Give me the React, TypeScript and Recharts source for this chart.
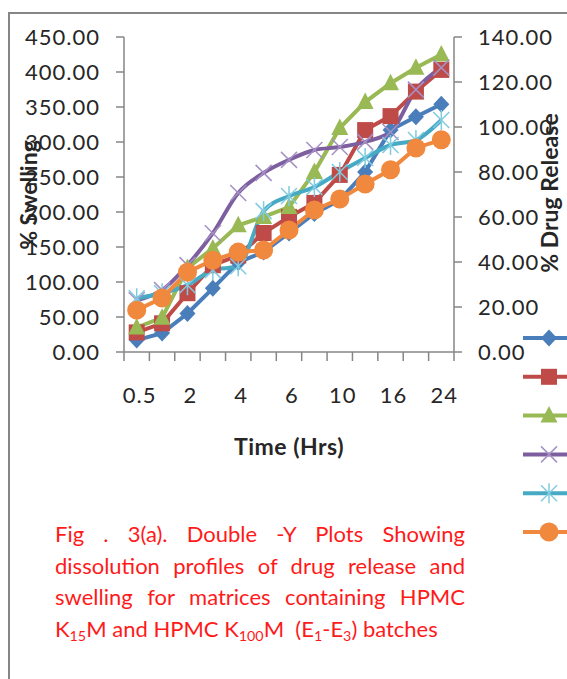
import React from 'react';
import { ComposedChart, Line, XAxis, YAxis } from 'recharts';

// sampling times (hrs)
const HOURS = ['0.5', '1', '2', '3', '4', '5', '6', '8', '10', '12', '16', '20', '24'];

// % swelling (left axis)
const E1_SWELL = [17, 27, 55, 91, 128, 143, 170, 198, 217, 257, 317, 336, 354];
const E2_SWELL = [28, 41, 84, 124, 138, 170, 193, 213, 253, 317, 337, 372, 403];
const E3_SWELL = [35, 49, 120, 148, 181, 193, 207, 257, 320, 357, 384, 406, 425];

// % drug release (right axis)
const E1_REL = [23.0, 27.5, 38.6, 52.8, 70.7, 79.6, 85.4, 89.8, 91.1, 93.4, 97.8, 116.6, 126.4];
const E2_REL = [23.9, 26.1, 29.7, 36.4, 38.1, 62.6, 69.3, 73.3, 80.0, 86.2, 92.0, 94.2, 103.1];
const E3_REL = [18.6, 24.0, 35.5, 40.8, 44.4, 45.3, 54.2, 63.1, 68.0, 74.7, 81.0, 90.7, 94.3];

const LEFT_TICKS = [0, 50, 100, 150, 200, 250, 300, 350, 400, 450];
const RIGHT_TICKS = [0, 20, 40, 60, 80, 100, 120, 140];

const data = HOURS.map((h, i) => ({
  time: h,
  s1: E1_SWELL[i],
  s2: E2_SWELL[i],
  s3: E3_SWELL[i],
  r1: E1_REL[i],
  r2: E2_REL[i],
  r3: E3_REL[i],
}));

const series = [
  { key: 's1', name: 'E1 Swelling', axis: 'left', color: '#4a7ebb', mark: 'diamond', smooth: false },
  { key: 's2', name: 'E2 Swelling', axis: 'left', color: '#be4b48', mark: 'square', smooth: false },
  { key: 's3', name: 'E3 Swelling', axis: 'left', color: '#98b954', mark: 'triangle', smooth: false },
  { key: 'r1', name: 'E1 Drug Release', axis: 'right', color: '#7d5fa0', mark: 'x', smooth: true },
  { key: 'r2', name: 'E2 Drug Release', axis: 'right', color: '#46aac5', mark: 'star', smooth: true },
  { key: 'r3', name: 'E3 Drug Release', axis: 'right', color: '#f0883e', mark: 'circle', smooth: false },
];

const AXIS = '#868686';
const FONT = 'Lato, "Open Sans", sans-serif';
const PLOT_L = 124;
const PLOT_R = 454;

const Marker = ({ mark, cx, cy, color }: any) => {
  if (cx == null || cy == null) return null;
  switch (mark) {
    case 'diamond':
      return <polygon points={`${cx},${cy - 8.5} ${cx + 8},${cy} ${cx},${cy + 8.5} ${cx - 8},${cy}`} fill={color} />;
    case 'square':
      return <rect x={cx - 8} y={cy - 8} width={16} height={16} fill={color} />;
    case 'triangle':
      return <polygon points={`${cx},${cy - 9.5} ${cx + 8.5},${cy + 7} ${cx - 8.5},${cy + 7}`} fill={color} />;
    case 'x':
      return (
        <g stroke="#a590c4" strokeWidth={1.5}>
          <line x1={cx - 8} y1={cy - 8} x2={cx + 8} y2={cy + 8} />
          <line x1={cx - 8} y1={cy + 8} x2={cx + 8} y2={cy - 8} />
        </g>
      );
    case 'star':
      return (
        <g stroke="#7fcbe0" strokeWidth={1.5}>
          <line x1={cx - 8} y1={cy - 8} x2={cx + 8} y2={cy + 8} />
          <line x1={cx - 8} y1={cy + 8} x2={cx + 8} y2={cy - 8} />
          <line x1={cx} y1={cy - 10} x2={cx} y2={cy + 10} />
        </g>
      );
    default:
      return <circle cx={cx} cy={cy} r={9.5} fill={color} />;
  }
};

const XTick = (props: any) => {
  const { x, y, payload, index } = props;
  const bw = (PLOT_R - PLOT_L) / HOURS.length;
  return (
    <g>
      <line x1={x - bw / 2} y1={y} x2={x - bw / 2} y2={y + 9} stroke={AXIS} strokeWidth={1.5} />
      {index === HOURS.length - 1 && (
        <line x1={x + bw / 2} y1={y} x2={x + bw / 2} y2={y + 9} stroke={AXIS} strokeWidth={1.5} />
      )}
      {index % 2 === 0 && (
        <text x={x + 3} y={y + 51} textAnchor="middle" fontSize={22} fill="#262626" fontFamily={FONT} letterSpacing={1}>
          {payload.value}
        </text>
      )}
    </g>
  );
};

const tickStyle = { fontSize: 22, fill: '#262626', fontFamily: FONT, letterSpacing: 1 };
const subStyle = { fontSize: '0.65em', verticalAlign: '-0.3em', lineHeight: 0 };
const fullLine = { textAlign: 'justify' as const, textAlignLast: 'justify' as const, whiteSpace: 'nowrap' as const };

export default function App() {
  return (
    <div style={{ position: 'absolute', left: 0, top: 0, width: 567, height: 679, overflow: 'hidden', background: '#fff' }}>
      <div style={{ position: 'absolute', left: 8, top: 12, width: 700, height: 800, borderTop: `2px solid ${AXIS}`, borderLeft: `2px solid ${AXIS}` }} />
      <div style={{ position: 'absolute', left: 0, top: 0 }}>
        <ComposedChart width={567} height={462} data={data} margin={{ top: 37, right: 0, bottom: 0, left: 0 }}>
          <XAxis
            dataKey="time"
            scale="band"
            height={110}
            interval={0}
            tickSize={0}
            tickMargin={0}
            tickLine={false}
            axisLine={{ stroke: AXIS, strokeWidth: 1.5 }}
            tick={<XTick />}
          />
          <YAxis
            yAxisId="left"
            width={124}
            domain={[0, 450]}
            ticks={LEFT_TICKS}
            interval={0}
            tickSize={8}
            tickMargin={16}
            tickFormatter={(v: number) => v.toFixed(2)}
            tick={tickStyle}
            axisLine={{ stroke: AXIS, strokeWidth: 1.5 }}
            tickLine={{ stroke: AXIS, strokeWidth: 1.5 }}
          />
          <YAxis
            yAxisId="right"
            orientation="right"
            width={113}
            domain={[0, 140]}
            ticks={RIGHT_TICKS}
            interval={0}
            tickSize={8}
            tickMargin={16}
            tickFormatter={(v: number) => v.toFixed(2)}
            tick={tickStyle}
            axisLine={{ stroke: AXIS, strokeWidth: 1.5 }}
            tickLine={{ stroke: AXIS, strokeWidth: 1.5 }}
          />
          {series.map((s) => (
            <Line
              key={s.key}
              yAxisId={s.axis}
              dataKey={s.key}
              name={s.name}
              type={s.smooth ? 'monotone' : 'linear'}
              stroke={s.color}
              strokeWidth={4}
              isAnimationActive={false}
              activeDot={false}
              dot={(p: any) => <Marker key={`${s.key}-${p.index}`} mark={s.mark} cx={p.cx} cy={p.cy} color={s.color} />}
            />
          ))}
        </ComposedChart>
      </div>
      <svg width={567} height={679} style={{ position: 'absolute', left: 0, top: 0, pointerEvents: 'none' }}>
        <text x={0} y={0} transform="translate(37,195) rotate(-90)" textAnchor="middle" fontSize={23} fontWeight="bold" fill="#262626" fontFamily={FONT}>
          % Swelling
        </text>
        <text x={0} y={0} transform="translate(558,193) rotate(-90)" textAnchor="middle" fontSize={23} fontWeight="bold" fill="#262626" fontFamily={FONT}>
          % Drug Release
        </text>
        <text x={289} y={455} textAnchor="middle" fontSize={23} fontWeight="bold" fill="#262626" fontFamily={FONT} letterSpacing={0.5}>
          Time (Hrs)
        </text>
        {/* legend: labels fall outside the picture in the original, only keys are visible */}
        {series.map((s, i) => {
          const y = 338 + i * 38.8;
          return (
            <g key={s.key}>
              <line x1={523} y1={y} x2={575} y2={y} stroke={s.color} strokeWidth={4} />
              <Marker mark={s.mark} cx={549} cy={y} color={s.color} />
            </g>
          );
        })}
      </svg>
      <div style={{ position: 'absolute', left: 55, top: 518, width: 410, color: '#ff1a1a', fontFamily: FONT, fontSize: 22, lineHeight: '31.5px' }}>
        <div style={fullLine}>Fig . 3(a). Double -Y Plots Showing</div>
        <div style={fullLine}>dissolution profiles of drug release and</div>
        <div style={fullLine}>swelling for matrices containing HPMC</div>
        <div style={{ whiteSpace: 'nowrap' }}>
          K<sub style={subStyle}>15</sub>M and HPMC K<sub style={subStyle}>100</sub>M&nbsp; (E<sub style={subStyle}>1</sub>-E
          <sub style={subStyle}>3</sub>) batches
        </div>
      </div>
    </div>
  );
}
